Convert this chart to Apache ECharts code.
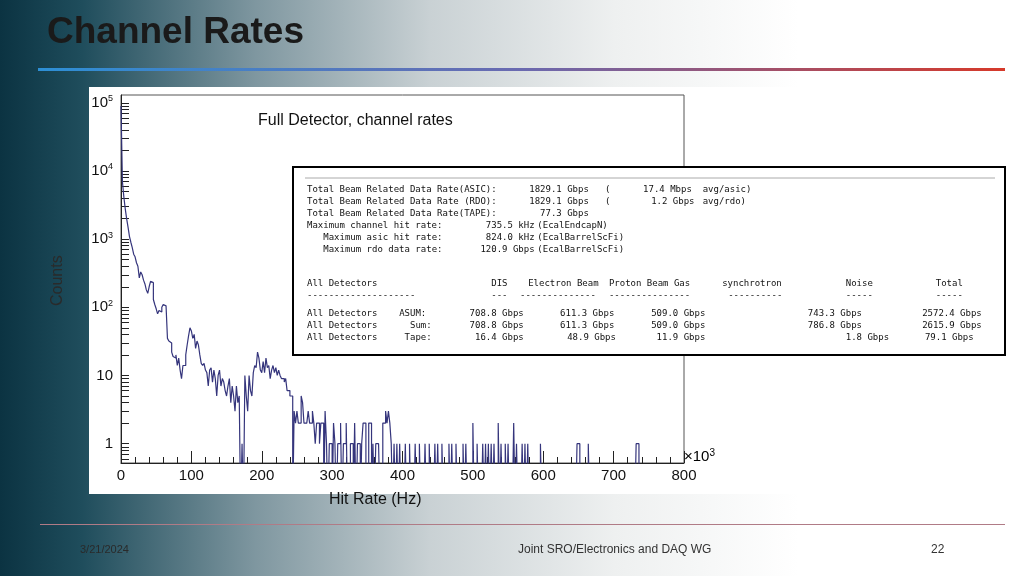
<!DOCTYPE html>
<html>
<head>
<meta charset="utf-8">
<script src="https://cdn.jsdelivr.net/npm/echarts@6/dist/echarts.min.js"></script>
<style>
  html, body { margin: 0; padding: 0; }
  body {
    width: 1024px; height: 576px; overflow: hidden;
    background: linear-gradient(90deg, #0b3342 0%, #1f4d5c 8%, #7f97a0 25%, #c9d1d4 42%, #eef0f0 60%, #ffffff 78%);
  }
  #chart { width: 1024px; height: 576px; }
</style>
</head>
<body>
<div id="chart"></div>
<script>
// histogram counts, bin width 2 (x in units of 10^3 Hz), from 0 to 250
const binWidth = 2;
const lowCounts = [
  90000, 7000, 4200, 2800, 2000, 1500, 1100, 900, 750, 600,
  550, 450, 400, 270, 330, 300, 250, 220, 180, 160,
  200, 240, 230, 130, 110, 95, 80, 90, 85, 100,
  110, 105, 100, 35, 32, 30, 22, 19, 18, 20,
  14, 18, 12, 9, 14, 14, 20, 28, 38, 50,
  45, 35, 40, 25, 32, 28, 20, 15, 14, 15,
  12, 11, 7, 12, 13, 8, 12, 9, 5, 10,
  12, 7, 9, 8, 6, 5, 7, 9, 4, 7,
  5, 3, 7, 4, 5, 0, 1, 0, 10, 5,
  3, 10, 6, 5, 11, 14, 13, 22, 18, 12,
  11, 16, 11, 18, 13, 14, 9, 12, 14, 11,
  13, 10, 12, 10, 9, 9, 8, 9, 6, 6,
  5, 5, 0, 3, 2
];
// sparse tail above 250: [bin start, count]
const tailSpikes = [
  [250,3],[252,2],[254,2],[256,5],[258,4],[260,2],[262,2],[264,2],[266,3],[268,2],
  [270,2],[272,3],[274,2],[276,1],[278,2],[280,2],[282,1],[284,2],[286,2],[290,3],
  [292,1],[296,1],[298,1],[302,2],[304,1],[308,1],[310,1],[312,2],[316,1],[318,1],
  [320,2],[326,1],[328,1],[332,2],[336,1],[338,1],[342,1],[344,2],[346,2],[352,2],
  [354,2],[358,1],[362,1],[364,1],[366,1],[372,2],[374,2],[376,3],[378,2],[380,3],
  [382,2],[384,1],[388,1],[392,1],[396,1],[404,1],[410,1],[418,1],[424,1],[432,1],
  [438,1],[446,1],[450,1],[456,1],[466,1],[470,1],[476,1],[486,1],[490,1],[500,2],
  [506,1],[514,1],[518,1],[522,1],[526,1],[530,1],[536,2],[540,1],[546,1],[550,1],
  [558,2],[562,1],[570,1],[574,1],[578,1],[596,1],[648,1],[650,1],[664,1],[732,1],[734,1]
];
const xTicks = [0, 100, 200, 300, 400, 500, 600, 700, 800];
const yLabelValues = [1, 10, 100, 1000, 10000, 100000];

// stat box text rows: [column, text]
const statRows = [
  [[0,'Total Beam Related Data Rate(ASIC):'],[41,'1829.1 Gbps'],[55,'('],[62,'17.4 Mbps'],[73,'avg/asic)']],
  [[0,'Total Beam Related Data Rate (RDO):'],[41,'1829.1 Gbps'],[55,'('],[63.5,'1.2 Gbps'],[73,'avg/rdo)']],
  [[0,'Total Beam Related Data Rate(TAPE):'],[43,'77.3 Gbps']],
  [[0,'Maximum channel hit rate:'],[33,'735.5 kHz'],[42.5,'(EcalEndcapN)']],
  [[3,'Maximum asic hit rate:'],[33,'824.0 kHz'],[42.5,'(EcalBarrelScFi)']],
  [[3,'Maximum rdo data rate:'],[32,'120.9 Gbps'],[42.5,'(EcalBarrelScFi)']],
  [], [],
  [[0,'All Detectors'],[34,'DIS'],[40.8,'Electron Beam'],[55.7,'Proton Beam Gas'],[76.6,'synchrotron'],[99.4,'Noise'],[116,'Total']],
  [[0,'--------------------'],[34,'---'],[39.3,'--------------'],[55.7,'---------------'],[77.7,'----------'],[99.4,'-----'],[116,'-----']],
  [[0,'All Detectors'],[17,'ASUM:'],[30,'708.8 Gbps'],[46.7,'611.3 Gbps'],[63.5,'509.0 Gbps'],[92.4,'743.3 Gbps'],[113.5,'2572.4 Gbps']],
  [[0,'All Detectors'],[19,'Sum:'],[30,'708.8 Gbps'],[46.7,'611.3 Gbps'],[63.5,'509.0 Gbps'],[92.4,'786.8 Gbps'],[113.5,'2615.9 Gbps']],
  [[0,'All Detectors'],[18,'Tape:'],[31,'16.4 Gbps'],[48,'48.9 Gbps'],[64.5,'11.9 Gbps'],[99.4,'1.8 Gbps'],[114,'79.1 Gbps']]
];

// build step histogram points
const spikeMap = {};
tailSpikes.forEach(s => { spikeMap[s[0]] = s[1]; });
const histPoints = [];
lowCounts.forEach((c, i) => histPoints.push([i * binWidth, c > 0 ? c : 0.1]));
for (let x = 250; x < 800; x += binWidth) {
    const c = spikeMap[x] || 0;
    histPoints.push([x, c > 0 ? c : 0.1]);
}
histPoints.push([800, 0.1]);

const chart = echarts.init(document.getElementById('chart'));

// stat text as graphic elements
const statGraphics = [];
const charW = 5.42;
statRows.forEach((row, r) => {
    const y = r < 6 ? 185 + r * 12 : 279 + (r - 8) * 12 + (r >= 10 ? 6 : 0);
    row.forEach(part => {
        statGraphics.push({
            type: 'text', left: 307 + part[0] * charW, top: y,
            style: { text: part[1], font: '9px "DejaVu Sans Mono"', fill: '#111' }
        });
    });
});

const sup = { fontSize: 9, verticalAlign: 'top', padding: [0, 0, 8, 0], fontFamily: 'Liberation Sans', color: '#111' };

const option = {
    animation: false,
    graphic: [
        { type: 'text', left: 47, top: 14, z: 10,
          style: { text: 'Channel Rates', font: 'bold 37px "Liberation Sans"', fill: '#1a1a1a',
                   shadowColor: 'rgba(255,255,255,0.9)', shadowBlur: 2, shadowOffsetX: 2, shadowOffsetY: 2 } },
        { type: 'rect', shape: { x: 38, y: 68, width: 967, height: 3 },
          style: { fill: new echarts.graphic.LinearGradient(0, 0, 1, 0, [
              { offset: 0, color: '#2d8fd5' }, { offset: 0.5, color: '#6a6ab0' }, { offset: 1, color: '#d6392a' }]) } },
        { type: 'rect', z: -10, shape: { x: 89, y: 87, width: 928, height: 407 }, style: { fill: '#fff' } },
        { type: 'rect', z: 5, shape: { x: 293, y: 167, width: 712, height: 188 },
          style: { fill: '#fff', stroke: '#000', lineWidth: 2 } },
        { type: 'line', z: 6, shape: { x1: 305, y1: 178, x2: 995, y2: 178 }, style: { stroke: '#aaa', lineWidth: 1 } },
        { type: 'group', z: 7, children: statGraphics.map(g => Object.assign(g, { z: 7 })) },
        { type: 'text', left: 258, top: 113,
          style: { text: 'Full Detector, channel rates', font: '16px "Liberation Sans"', fill: '#111' } },
        { type: 'text', left: 684, top: 448,
          style: { rich: { b: { fontSize: 15, fontFamily: 'Liberation Sans', color: '#111' }, s: { fontSize: 10, fontFamily: 'Liberation Sans', color: '#111', verticalAlign: 'top', padding: [0, 0, 8, 0] } },
                   text: '{b|\u00d710}{s|3}' } },
        { type: 'text', x: 50, y: 306, rotation: Math.PI / 2,
          style: { text: 'Counts', font: '16px "Liberation Sans"', fill: '#2a2a2a' } },
        { type: 'text', left: 329, top: 492,
          style: { text: 'Hit Rate (Hz)', font: '16px "Liberation Sans"', fill: '#111' } },
        { type: 'rect', shape: { x: 40, y: 524, width: 965, height: 1 }, style: { fill: '#b07b86' } },
        { type: 'text', left: 80, top: 544, style: { text: '3/21/2024', font: '11px "Liberation Sans"', fill: '#2a2a2a' } },
        { type: 'text', left: 518, top: 544, style: { text: 'Joint SRO/Electronics and DAQ WG', font: '12px "Liberation Sans"', fill: '#333', textAlign: 'center' } },
        { type: 'text', left: 931, top: 544, style: { text: '22', font: '12px "Liberation Sans"', fill: '#333' } }
    ],
    grid: { left: 121, top: 95, width: 563, height: 368, show: true, borderColor: '#555', borderWidth: 1, backgroundColor: '#fff' },
    xAxis: {
        type: 'value', min: 0, max: 800, interval: 100,
        axisLine: { lineStyle: { color: '#222' } },
        axisTick: { inside: true, length: 12, lineStyle: { color: '#222' } },
        minorTick: { show: true, splitNumber: 5, length: 6, lineStyle: { color: '#222' } },
        splitLine: { show: false },
        axisLabel: { color: '#111', fontSize: 15, fontFamily: 'Liberation Sans', margin: 5,
                     customValues: xTicks }
    },
    yAxis: {
        type: 'log', logBase: 10, min: 0.52, max: 130000,
        axisLine: { lineStyle: { color: '#222' } },
        axisTick: { inside: true, length: 8, lineStyle: { color: '#222' },
                    customValues: (() => { const v = []; yLabelValues.forEach(p => { for (let k = 1; k < 10; k++) if (p * k <= 130000) v.push(p * k); }); v.push(0.6, 0.7, 0.8, 0.9); return v; })() },
        splitLine: { show: false },
        axisLabel: {
            customValues: yLabelValues, margin: 8,
            formatter: v => {
                const e = Math.round(Math.log10(v));
                if (e === 0) return '{b|1}';
                if (e === 1) return '{b|10}';
                return '{b|10}{s|' + e + '}';
            },
            rich: { b: { fontSize: 15, fontFamily: 'Liberation Sans', color: '#111' }, s: sup }
        }
    },
    series: [{
        type: 'line', step: 'end', data: histPoints, showSymbol: false, symbol: 'none',
        clip: true, lineStyle: { color: '#35357c', width: 1.2 }
    }]
};
chart.setOption(option);
</script>
</body>
</html>
